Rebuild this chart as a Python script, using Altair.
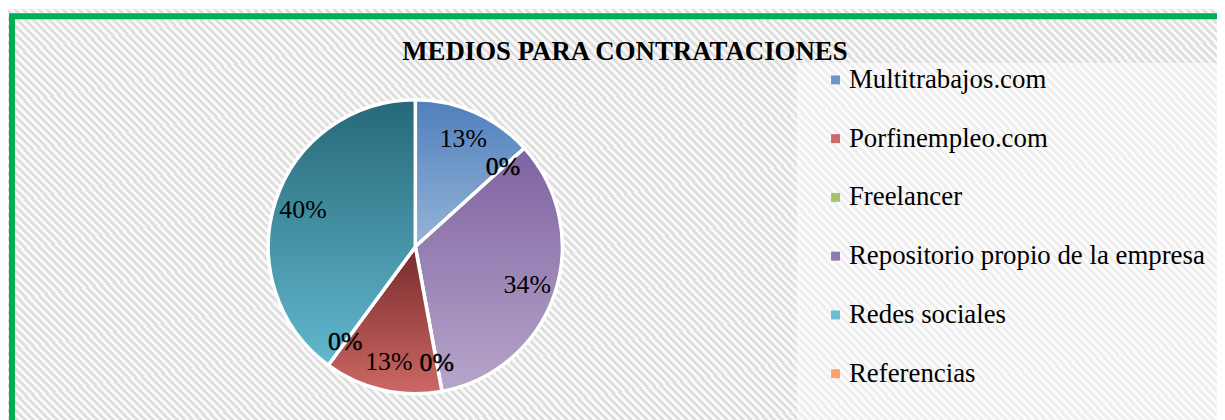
import altair as alt
import pandas as pd

# ---------------- data ----------------
titulo = "MEDIOS PARA CONTRATACIONES"

# legend categories (legend order)
legend_categorias = ["Multitrabajos.com", "Porfinempleo.com", "Freelancer",
                     "Repositorio propio de la empresa", "Redes sociales", "Referencias"]
legend_colores = ["#6E94C9", "#CB6A67", "#A5C36F", "#8F79AE", "#6ABCD0", "#F9A368"]

# pie slices, clockwise from 12 o'clock (percent)
pie_categorias = ["Multitrabajos.com", "Freelancer", "Repositorio propio de la empresa",
                  "Referencias", "Porfinempleo.com", "Otros", "Redes sociales"]
pie_valores = [13.3, 0.0, 33.8, 0.0, 13.0, 0.0, 39.9]
pie_orden = [1, 2, 3, 4, 5, 6, 7]

# ---------------- layout ----------------
W, H = 1217, 412
CX, CY, R = 410, 239, 148

FONT = "Liberation Serif"

pie_df = pd.DataFrame({"categoria": pie_categorias, "valor": pie_valores, "orden": pie_orden})
legend_df = pd.DataFrame({"categoria": legend_categorias})
one = pd.DataFrame({"k": [0]})


def vgrad(top, bottom):
    return {"gradient": "linear", "x1": 0, "y1": 0, "x2": 0, "y2": 1,
            "stops": [{"offset": 0, "color": top}, {"offset": 1, "color": bottom}]}


slice_grads = {
    "Multitrabajos.com": vgrad("#4F7FBC", "#96B4D8"),
    "Repositorio propio de la empresa": vgrad("#7F62A1", "#B6A6CA"),
    "Porfinempleo.com": vgrad("#772B2B", "#CD6865"),
    "Redes sociales": vgrad("#266878", "#62B8CE"),
}
fill_enc = {
    "condition": [{"test": f"datum.categoria === '{k}'", "value": v} for k, v in slice_grads.items()],
    "value": "#cccccc",
}

# diagonal hatch background as a many-stop linear gradient
P = 8.0
r = H / W
s = (1 + r) / (1 + r * r)
N = int((W + H) / P)
stops = []
g1, g2 = "#dfdfdf", "#f9f9f9"
for k in range(N):
    a = k / N
    b = (k + 0.5) / N
    c = (k + 1) / N
    stops += [{"offset": a, "color": g1}, {"offset": b, "color": g1},
              {"offset": b, "color": g2}, {"offset": c, "color": g2}]
hatch = {"gradient": "linear", "x1": 0, "y1": 1, "x2": s, "y2": 1 - s * r, "stops": stops}

bg = alt.Chart(one).mark_rect(fill=hatch).encode(
    x=alt.value(0), x2=alt.value(W), y=alt.value(0), y2=alt.value(H + 10)
)

legend_box = alt.Chart(one).mark_rect(fill="white", opacity=0.5).encode(
    x=alt.value(794), x2=alt.value(W + 10), y=alt.value(54), y2=alt.value(H + 10)
)

border = alt.Chart(one).mark_rect(fill=None, stroke="#00B050", strokeWidth=6, filled=False).encode(
    x=alt.value(4), x2=alt.value(W + 30), y=alt.value(7), y2=alt.value(H + 40)
)

arcs = alt.Chart(pie_df).mark_arc(outerRadius=R, stroke="white", strokeWidth=3.5).encode(
    theta=alt.Theta("valor:Q", stack=True),
    order=alt.Order("orden:Q", sort="ascending"),
    x=alt.value(CX), y=alt.value(CY),
    fill=fill_enc,
)

labels = alt.Chart(pie_df).transform_calculate(
    etiqueta="format(datum.valor, '.0f') + '%'"
).mark_text(radius=119, font=FONT, fontSize=26, color="black", stroke="black").encode(
    theta=alt.Theta("valor:Q", stack=True),
    order=alt.Order("orden:Q", sort="ascending"),
    x=alt.value(CX), y=alt.value(CY),
    text="etiqueta:N",
    strokeWidth=alt.condition("datum.valor == 0", alt.value(0.45), alt.value(0)),
)

title = alt.Chart(pd.DataFrame({"t": [titulo]})).mark_text(
    font=FONT, fontSize=27, fontWeight="bold", color="black", align="center", baseline="middle"
).encode(text="t:N", x=alt.value(621), y=alt.value(43))

legend_layer = alt.Chart(legend_df).mark_square(opacity=0, size=81).encode(
    x=alt.value(-100), y=alt.value(-100),
    color=alt.Color(
        "categoria:N",
        scale=alt.Scale(domain=legend_categorias, range=legend_colores),
        legend=alt.Legend(
            title=None, orient="none", legendX=819.5, legendY=57.5,
            symbolType="square", symbolSize=81, symbolOpacity=1, symbolStrokeWidth=0,
            labelFont=FONT, labelFontSize=27, labelColor="black", labelLimit=500,
            labelOffset=0, rowPadding=31.15, padding=0,
        ),
    ),
)

chart = alt.layer(bg, legend_box, border, arcs, labels, title, legend_layer).properties(
    width=W, height=H, padding=0, autosize=alt.AutoSizeParams(type="none")
).configure_view(stroke=None)

chart.save("out.html", embed_options={"renderer": "svg", "actions": False})
